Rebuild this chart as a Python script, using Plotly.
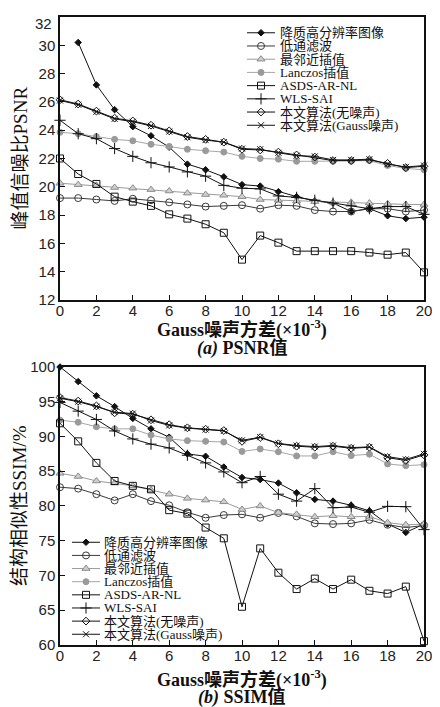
import plotly.graph_objects as go

# ---------------- data ----------------
x_vals = list(range(21))
x_ticks = list(range(0, 21, 2))
psnr_ticks = list(range(12, 31, 2))   # "32" is placed as a separate label (see below)
psnr_top_label = "32"
ssim_ticks = list(range(60, 101, 5))

series_names = ["降质高分辨率图像", "低通滤波", "最邻近插值", "Lanczos插值",
                "ASDS-AR-NL", "WLS-SAI", "本文算法(无噪声)", "本文算法(Gauss噪声)"]

psnr_degraded = [None, 30.2, 27.2, 25.45, 24.25, 23.6, 22.8, 21.6, 21.2, 20.7, 20.15,
                 20.05, 19.65, 19.3, 19.0, 18.85, 18.25, 18.45, 17.95, 17.75, 17.85]
psnr_lowpass = [19.2, 19.2, 19.1, 19.0, 19.15, 19.05, 18.9, 18.75, 18.6, 18.65, 18.7,
                18.45, 18.7, 18.65, 18.35, 18.25, 18.25, 18.45, 18.45, 18.25, 18.35]
psnr_nearest = [20.25, 20.15, 20.1, 19.95, 19.9, 19.8, 19.7, 19.55, 19.45, 19.4, 19.3,
                19.1, 19.05, 19.0, 18.95, 18.9, 18.9, 18.85, 18.8, 18.75, 18.75]
psnr_lanczos = [23.85, 23.75, 23.55, 23.35, 23.25, 23.0, 22.85, 22.65, 22.55, 22.45, 22.15,
                22.0, 21.95, 21.8, 21.8, 21.8, 21.8, 21.85, 21.5, 21.3, 21.2]
psnr_asds = [22.0, 20.9, 20.2, 19.3, 18.95, 18.65, 18.05, 17.75, 17.35, 16.75, 14.85,
             16.55, 16.05, 15.45, 15.45, 15.45, 15.45, 15.35, 15.2, 15.35, 13.95]
psnr_wls = [24.7, 23.75, 23.4, 22.7, 22.15, 21.7, 21.4, 21.05, 20.75, 20.1, 19.9,
            19.85, 19.35, 19.25, 19.05, 18.85, 18.65, 18.45, 18.6, 18.6, 18.05]
psnr_ours_clean = [26.15, 25.85, 25.35, 24.85, 24.65, 24.35, 23.95, 23.55, 23.35, 23.15, 22.65,
                   22.6, 22.45, 22.25, 22.1, 21.85, 21.85, 21.9, 21.65, 21.35, 21.45]
psnr_ours_gauss = [26.1, 25.8, 25.3, 24.8, 24.6, 24.3, 23.9, 23.5, 23.3, 23.15, 22.7,
                   22.65, 22.4, 22.2, 22.15, 21.9, 21.9, 21.95, 21.6, 21.4, 21.5]

ssim_degraded = [100, 97.9, 95.85, 94.3, 92.6, 91.1, 89.9, 87.5, 87.15, 85.6, 84.1,
                 83.8, 83.3, 81.9, 80.95, 80.7, 80.1, 79.3, 77.4, 76.2, 77.4]
ssim_lowpass = [82.7, 82.5, 81.7, 80.8, 81.7, 80.7, 80.1, 79.1, 78.3, 78.7, 78.8,
                78.3, 79.0, 78.5, 77.5, 77.4, 77.5, 78.0, 77.3, 76.9, 77.2]
ssim_nearest = [84.7, 84.25, 83.6, 83.3, 82.9, 82.3, 81.7, 81.1, 80.85, 80.6, 79.5,
                80.0, 79.05, 78.8, 78.45, 78.6, 78.45, 78.5, 77.6, 77.3, 77.4]
ssim_lanczos = [92.35, 92.05, 91.4, 91.1, 91.1, 90.2, 89.65, 89.4, 89.3, 89.2, 87.85,
                88.2, 87.8, 87.2, 87.2, 87.8, 87.25, 87.45, 86.05, 85.8, 85.95]
ssim_asds = [91.9, 89.3, 86.2, 83.6, 82.9, 82.4, 79.4, 78.9, 76.9, 75.35, 65.5,
             73.9, 70.4, 68.05, 69.55, 68.05, 69.4, 67.8, 67.4, 68.4, 60.55]
ssim_wls = [94.9, 93.65, 92.45, 90.8, 89.65, 88.9, 88.35, 87.3, 86.2, 84.9, 83.35,
            84.25, 81.7, 80.7, 82.5, 79.75, 79.85, 79.1, 79.95, 79.9, 76.6]
ssim_ours_clean = [95.6, 95.1, 94.4, 93.4, 93.2, 92.4, 91.7, 91.25, 91.05, 90.85, 89.3,
                   89.85, 88.95, 88.6, 88.45, 88.6, 88.3, 88.45, 86.95, 86.55, 87.35]
ssim_ours_gauss = [95.5, 95.0, 94.3, 93.5, 93.3, 92.3, 91.6, 91.2, 91.0, 90.8, 89.45,
                   89.9, 89.0, 88.7, 88.55, 88.7, 88.4, 88.5, 87.1, 86.7, 87.5]

psnr_series = [psnr_degraded, psnr_lowpass, psnr_nearest, psnr_lanczos,
               psnr_asds, psnr_wls, psnr_ours_clean, psnr_ours_gauss]
ssim_series = [ssim_degraded, ssim_lowpass, ssim_nearest, ssim_lanczos,
               ssim_asds, ssim_wls, ssim_ours_clean, ssim_ours_gauss]

# ---------------- styles ----------------
styles = [
    dict(line="#111111", symbol="diamond", size=5, fill="#111111", mline="#111111"),
    dict(line="#3a3a3a", symbol="circle-open", size=7, fill="#3a3a3a", mline="#3a3a3a"),
    dict(line="#9a9a9a", symbol="triangle-up", size=7, fill="#cfcfcf", mline="#8a8a8a"),
    dict(line="#a6a6a6", symbol="circle", size=6, fill="#9a9a9a", mline="#9a9a9a"),
    dict(line="#111111", symbol="square-open", size=7, fill="#111111", mline="#111111"),
    dict(line="#111111", symbol="cross-thin-open", size=8, fill="#111111", mline="#111111"),
    dict(line="#111111", symbol="diamond-open", size=6, fill="#111111", mline="#111111"),
    dict(line="#111111", symbol="x-thin-open", size=6, fill="#111111", mline="#111111"),
]

SERIF = "Liberation Serif, Noto Sans CJK SC, serif"
SANS = "Liberation Sans, Arial, sans-serif"
W, H = 440, 707
BODY = 8                      # default page margin of the HTML body
# plot area in page pixels
PX0, PX1, PY0, PY1 = 60, 424, 8, 645
ML, MT = PX0 - BODY, PY0 - BODY
PW, PH = PX1 - PX0, PY1 - PY0
MR, MB = W - ML - PW, H - MT - PH


def px(xp):
    return (xp - PX0) / PW


def py(yp):
    return 1 - (yp - PY0) / PH


top_dom = [py(295), 1.0]
bot_dom = [0.0, py(363)]

fig = go.Figure()


def marker_of(st):
    return dict(symbol=st["symbol"], size=st["size"], color=st["fill"],
                line=dict(color=st["mline"], width=1))


for i, name in enumerate(series_names):
    st = styles[i]
    fig.add_trace(go.Scatter(x=x_vals, y=psnr_series[i], mode="lines+markers", name=name,
                             line=dict(color=st["line"], width=1), marker=marker_of(st),
                             cliponaxis=False, showlegend=False, xaxis="x", yaxis="y"))
    fig.add_trace(go.Scatter(x=x_vals, y=ssim_series[i], mode="lines+markers", name=name,
                             line=dict(color=st["line"], width=1), marker=marker_of(st),
                             cliponaxis=False, showlegend=False, xaxis="x2", yaxis="y2"))

# compact legends drawn on a page-pixel overlay axis pair (x3/y3)
legend_blocks = [
    dict(x0=247, x1=275, tx=278, y0=24.0, dy=13.4),
    dict(x0=72, x1=100, tx=102, y0=540.8, dy=13.33),
]
annotations = []
for blk in legend_blocks:
    for i, name in enumerate(series_names):
        st = styles[i]
        yy = blk["y0"] + blk["dy"] * i
        fig.add_trace(go.Scatter(x=[blk["x0"], blk["x1"]], y=[yy, yy], mode="lines",
                                 line=dict(color=st["line"], width=1), showlegend=False,
                                 hoverinfo="skip", xaxis="x3", yaxis="y3", cliponaxis=False))
        fig.add_trace(go.Scatter(x=[(blk["x0"] + blk["x1"]) / 2], y=[yy], mode="markers",
                                 marker=marker_of(st), showlegend=False, hoverinfo="skip",
                                 xaxis="x3", yaxis="y3", cliponaxis=False))
        annotations.append(dict(x=px(blk["tx"]), y=py(yy), xref="paper", yref="paper",
                                text=name, showarrow=False, xanchor="left", yanchor="middle",
                                font=dict(family=SERIF, size=13, color="#111")))

xtitle = "<b>Gauss噪声方差(×10<sup>-3</sup>)</b>"
cx = px((PX0 + PX1) / 2)
for (ty, sy, sub, ycy, ytxt) in [(324, 344, "<b><i>(a)</i> PSNR值</b>", 151.5, "峰值信噪比PSNR"),
                                 (679, 698, "<b><i>(b)</i> SSIM值</b>", 504, "结构相似性SSIM/%")]:
    annotations.append(dict(x=cx, y=py(ty), xref="paper", yref="paper", text=xtitle,
                            showarrow=False, xanchor="center", yanchor="middle",
                            font=dict(family=SERIF, size=18, color="#111")))
    annotations.append(dict(x=cx, y=py(sy), xref="paper", yref="paper", text=sub,
                            showarrow=False, xanchor="center", yanchor="middle",
                            font=dict(family=SERIF, size=18, color="#111")))
    annotations.append(dict(x=px(20), y=py(ycy), xref="paper", yref="paper", text=ytxt,
                            showarrow=False, xanchor="center", yanchor="middle", textangle=-90,
                            font=dict(family=SERIF, size=19, color="#111")))

# top tick label of the PSNR axis sits just inside the frame in the original
annotations.append(dict(x=px(54), y=py(15), xref="paper", yref="paper", text=psnr_top_label,
                        showarrow=False, xanchor="right", yanchor="middle",
                        font=dict(family=SANS, size=15, color="#222")))

axis_common = dict(showline=True, linecolor="#111", linewidth=1.5, mirror=True,
                   ticks="inside", ticklen=5, tickwidth=1, tickcolor="#111",
                   showgrid=False, zeroline=False,
                   tickfont=dict(family=SANS, size=15, color="#222"))

fig.update_layout(
    width=W, height=H,
    margin=dict(l=ML, r=MR, t=MT, b=MB, pad=0),
    paper_bgcolor="white", plot_bgcolor="rgba(0,0,0,0)",
    showlegend=False,
    xaxis=dict(domain=[0, 1], anchor="y", range=[0, 20], tickvals=x_ticks,
               ticklabelstandoff=-4, **axis_common),
    yaxis=dict(domain=top_dom, anchor="x", range=[12, 32], tickvals=psnr_ticks, **axis_common),
    xaxis2=dict(domain=[0, 1], anchor="y2", range=[0, 20], tickvals=x_ticks,
                ticklabelstandoff=-4, **axis_common),
    yaxis2=dict(domain=bot_dom, anchor="x2", range=[60, 100], tickvals=ssim_ticks, **axis_common),
    xaxis3=dict(domain=[0, 1], anchor="y3", range=[PX0, PX1], visible=False, fixedrange=True),
    yaxis3=dict(domain=[0, 1], anchor="x3", range=[PY1, PY0], visible=False, fixedrange=True),
    annotations=annotations,
)

fig.write_html("out.html")
